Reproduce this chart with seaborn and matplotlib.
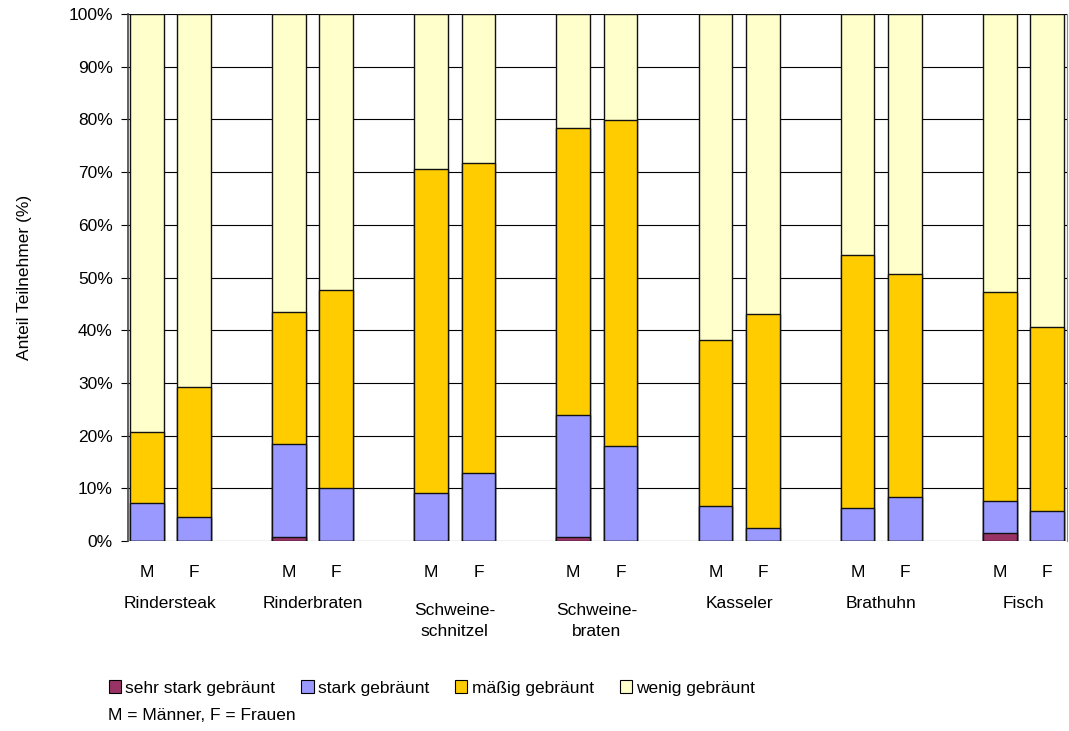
import matplotlib
matplotlib.use("Agg")
import matplotlib.pyplot as plt
import matplotlib.transforms as mtransforms
from matplotlib.patches import Patch
import numpy as np
import pandas as pd
import seaborn as sns

# Daten (Anteile in %, je Fleischsorte: M, F)
foods = ["Rindersteak", "Rinderbraten", "Schweine-\nschnitzel", "Schweine-\nbraten", "Kasseler", "Brathuhn", "Fisch"]
sexes = ["M", "F"]
sehr_stark = [0.0, 0.0, 0.8, 0.0, 0.0, 0.0, 0.8, 0.0, 0.0, 0.0, 0.0, 0.0, 1.5, 0.0]
stark = [7.3, 4.6, 17.7, 10.1, 9.2, 12.9, 23.1, 18.0, 6.6, 2.5, 6.3, 8.3, 6.1, 5.6]
maessig = [13.4, 24.6, 24.9, 37.5, 61.3, 58.9, 54.5, 61.9, 31.5, 40.5, 47.9, 42.4, 39.7, 35.0]
wenig = [79.3, 70.8, 56.6, 52.4, 29.5, 28.2, 21.6, 20.1, 61.9, 57.0, 45.8, 49.3, 52.7, 59.4]

series = ["sehr stark gebräunt", "stark gebräunt", "mäßig gebräunt", "wenig gebräunt"]
colors = ["#993366", "#9999FF", "#FFCC00", "#FFFFCC"]

pos = [3 * i + j for i in range(len(foods)) for j in range(2)]
df = pd.DataFrame({
    "pos": pos,
    "sex": sexes * len(foods),
    "sehr stark gebräunt": sehr_stark,
    "stark gebräunt": stark,
    "mäßig gebräunt": maessig,
    "wenig gebräunt": wenig,
})
# cumulative tops for stacking
cum = df[series].cumsum(axis=1)

sns.set_style("white")
plt.rcParams["font.family"] = ["Liberation Sans", "DejaVu Sans"]
plt.rcParams["font.size"] = 12.5
for k in ["text.color", "axes.labelcolor", "xtick.color", "ytick.color"]:
    plt.rcParams[k] = "black"

fig = plt.figure(figsize=(10.69, 7.31), dpi=100)
ax = fig.add_axes([128 / 1069, 190 / 731, (1067 - 128) / 1069, (541 - 14) / 731])

for s, c in zip(reversed(series), reversed(colors)):
    d = pd.DataFrame({"pos": df["pos"], "top": cum[s]})
    sns.barplot(data=d, x="pos", y="top", native_scale=True, width=0.71,
                color=c, edgecolor="#111111", linewidth=1.0, saturation=1,
                ax=ax, zorder=3)

ax.set_xlim(-0.395, 19.42)
ax.set_ylim(0, 100)
ax.set_yticks(np.arange(0, 101, 10))
ax.set_yticklabels([f"{v}%" for v in range(0, 101, 10)])
ax.yaxis.grid(True, color="black", linewidth=0.8, zorder=0)
ax.set_axisbelow(True)
ax.tick_params(axis="y", direction="out", length=5, width=0.8, color="black", pad=6, left=True)
ax.set_xticks(pos)
ax.set_xticklabels(df["sex"])
ax.tick_params(axis="x", length=0, pad=17)
ax.set_xlabel("")
ax.set_ylabel("Anteil Teilnehmer (%)", labelpad=26)

for sp in ["top", "bottom"]:
    ax.spines[sp].set_visible(False)
ax.spines["left"].set_color("#444444")
ax.spines["left"].set_linewidth(1.2)
ax.spines["right"].set_color("#888888")
ax.spines["right"].set_linewidth(0.8)

trans = mtransforms.blended_transform_factory(ax.transData, ax.transAxes)
for i, name in enumerate(foods):
    y_px = 621 if "\n" in name else 603
    ax.text(3 * i + 0.5, -(y_px - 541) / 527, name, transform=trans, ha="center", va="center",
            linespacing=1.5)

handles = [Patch(facecolor=c, edgecolor="black", linewidth=0.8) for c in colors]
fig.legend(handles, series, loc="center left", bbox_to_anchor=(102 / 1069, 1 - 688 / 731),
           ncol=4, frameon=False, handlelength=0.7, handleheight=0.7,
           handletextpad=0.25, columnspacing=1.5, borderaxespad=0)
fig.text(108 / 1069, 1 - 716 / 731, "M = Männer, F = Frauen", va="center", ha="left")

fig.savefig("out.png", dpi=100)
